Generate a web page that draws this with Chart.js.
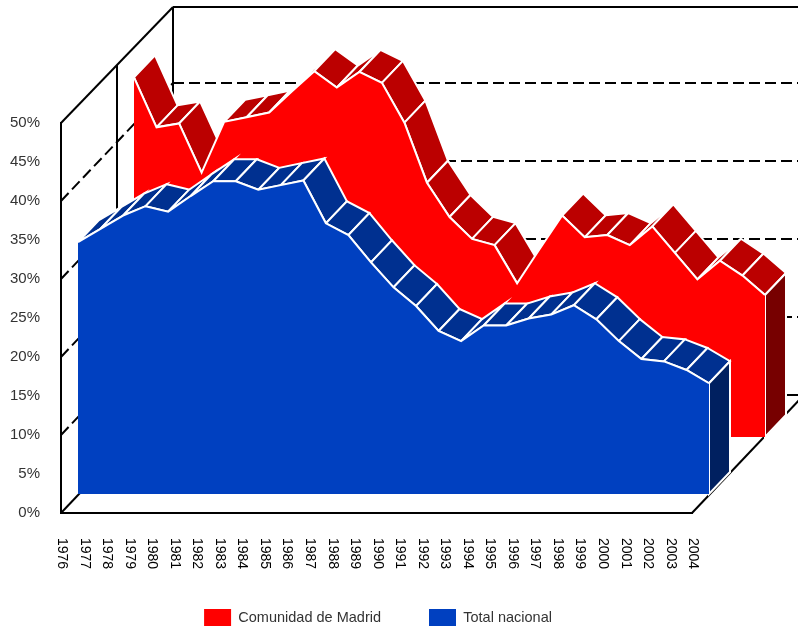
<!DOCTYPE html>
<html lang="es">
<head>
<meta charset="utf-8">
<title>Comunidad de Madrid / Total nacional</title>
<script src="https://cdn.jsdelivr.net/npm/chart.js@4/dist/chart.umd.min.js"></script>
<style>
  html, body { margin: 0; padding: 0; background: #fff; }
  canvas { display: block; }
</style>
</head>
<body>
<canvas id="chart" width="798" height="627"></canvas>
<script>
const years = ["1976","1977","1978","1979","1980","1981","1982","1983","1984","1985",
  "1986","1987","1988","1989","1990","1991","1992","1993","1994","1995",
  "1996","1997","1998","1999","2000","2001","2002","2003","2004"];

const madrid = [46.1,39.7,40.2,33.9,40.4,41.0,41.6,44.3,46.9,44.8,
  46.8,45.4,40.3,32.6,28.2,25.4,24.6,19.7,24.1,28.4,
  25.6,25.9,24.6,27.0,23.6,20.2,22.6,20.7,18.2];

const nacional = [32.3,34.0,35.7,36.9,36.2,38.2,40.1,40.1,39.0,39.6,
  40.2,34.7,33.2,29.7,26.5,24.1,20.9,19.6,21.6,21.6,
  22.5,23.0,24.2,22.4,19.6,17.3,17.0,15.9,14.2];

const wallTicks = [10, 20, 30, 40];

// ─── 3D look: every series sits on its own row of the depth axis ─────────────

const WALL = { dx: 112, dy: -118 };
const WALL_TOP_DY = -116;
const FACE = { dx: 21, dy: -22 };
const ROWS = [
  { dx: 73, dy: -76, top: "#bb0000", side: "#770000" },  // Comunidad de Madrid
  { dx: 17, dy: -19, top: "#003090", side: "#002060" },  // Total nacional
];

function segment(ctx, x0, y0, x1, y1) {
  ctx.beginPath();
  ctx.moveTo(x0, y0);
  ctx.lineTo(x1, y1);
  ctx.stroke();
}

function drawWalls(chart) {
  const { ctx, chartArea: a, scales: { y } } = chart;
  const back = (v) => y.getPixelForValue(v) + WALL.dy;
  const backTop = a.top + WALL_TOP_DY;

  ctx.save();
  ctx.strokeStyle = "#000";
  ctx.lineWidth = 2;

  ctx.setLineDash([11, 5]);
  wallTicks.forEach((v) => {
    const py = y.getPixelForValue(v);
    segment(ctx, a.left, py, a.left + WALL.dx, back(v));
    segment(ctx, a.left + WALL.dx, back(v), a.right + WALL.dx, back(v));
  });
  ctx.setLineDash([]);

  // top + floor edges, back corner and the depth tick half way
  segment(ctx, a.left, a.top, a.left + WALL.dx, backTop);
  segment(ctx, a.left + WALL.dx, backTop, a.right + WALL.dx, backTop);
  segment(ctx, a.left + WALL.dx, backTop, a.left + WALL.dx, back(0));
  segment(ctx, a.left + WALL.dx / 2, a.top + WALL_TOP_DY / 2, a.left + WALL.dx / 2, a.bottom + WALL.dy / 2);
  segment(ctx, a.left, a.bottom, a.left + WALL.dx, back(0));
  segment(ctx, a.right, a.bottom, a.right + WALL.dx, back(0));
  segment(ctx, a.left + WALL.dx, back(0), a.right + WALL.dx, back(0));
  ctx.restore();
}

function drawFaces(chart, index) {
  const { ctx, scales: { y } } = chart;
  const row = ROWS[index];
  const pts = chart.getDatasetMeta(index).data;

  ctx.strokeStyle = "#fff";
  ctx.lineWidth = 2;
  ctx.lineJoin = "miter";

  pts.slice(1).forEach((p, i) => {
    const q = pts[i];
    // facing away from the viewer when rising steeper than the depth direction
    if ((p.x - q.x) * FACE.dy - (p.y - q.y) * FACE.dx > 0) return;
    ctx.beginPath();
    ctx.moveTo(q.x, q.y);
    ctx.lineTo(p.x, p.y);
    ctx.lineTo(p.x + FACE.dx, p.y + FACE.dy);
    ctx.lineTo(q.x + FACE.dx, q.y + FACE.dy);
    ctx.closePath();
    ctx.fillStyle = row.top;
    ctx.fill();
    ctx.stroke();
  });

  const last = pts[pts.length - 1];
  const base = y.getPixelForValue(0);
  ctx.beginPath();
  ctx.moveTo(last.x, last.y);
  ctx.lineTo(last.x + FACE.dx, last.y + FACE.dy);
  ctx.lineTo(last.x + FACE.dx, base + FACE.dy);
  ctx.lineTo(last.x, base);
  ctx.closePath();
  ctx.fillStyle = row.side;
  ctx.fill();
  ctx.stroke();
}

const depthPlugin = {
  id: "depth",
  afterLayout(chart) {
    // legend sits lower and further right than the layout would put it
    const legend = chart.legend;
    legend.bottom += 561 - legend.top;
    legend.top = 561;
    legend.left += 32;
    legend.right += 32;
  },
  beforeDatasetsDraw(chart) {
    drawWalls(chart);
  },
  beforeDatasetDraw(chart, args) {
    const row = ROWS[args.index];
    chart.ctx.save();
    chart.ctx.translate(row.dx, row.dy);
    drawFaces(chart, args.index);
  },
  afterDatasetDraw(chart) {
    chart.ctx.restore();
  },
  afterDraw(chart) {
    // year labels read top to bottom, the axis can only rotate them the other way
    const { ctx, scales: { x } } = chart;
    ctx.save();
    ctx.fillStyle = "#000";
    ctx.font = '14px "Liberation Sans"';
    ctx.textAlign = "left";
    ctx.textBaseline = "middle";
    years.forEach((label, i) => {
      ctx.save();
      ctx.translate(x.getPixelForValue(i) + 1, 538);
      ctx.rotate(Math.PI / 2);
      ctx.fillText(label, 0, 0);
      ctx.restore();
    });
    ctx.restore();
  },
};

// the fill has to run after the translate above, so it goes behind our plugin
Chart.unregister(Chart.Filler);
Chart.register(depthPlugin, Chart.Filler);

new Chart(document.getElementById("chart"), {
  type: "line",
  data: {
    labels: years,
    datasets: [
      { label: "Comunidad de Madrid", data: madrid, backgroundColor: "#ff0000", order: 2 },
      { label: "Total nacional", data: nacional, backgroundColor: "#0040c0", order: 1 },
    ].map((d) => ({ ...d, fill: "origin", borderColor: "#fff", borderWidth: 2, pointRadius: 0, tension: 0, clip: false })),
  },
  options: {
    responsive: false,
    animation: false,
    layout: { padding: { left: 0, right: 106, top: 123, bottom: 39 } },
    plugins: {
      tooltip: { enabled: false },
      legend: {
        position: "bottom",
        labels: {
          boxWidth: 27,
          boxHeight: 17,
          padding: 48,
          color: "#333",
          font: { family: '"Liberation Sans"', size: 14.5 },
          sort: (a, b) => a.datasetIndex - b.datasetIndex,
          generateLabels: (chart) => Chart.defaults.plugins.legend.labels.generateLabels(chart)
            .map((l) => ({ ...l, lineWidth: 0 })),
        },
      },
    },
    scales: {
      x: {
        type: "category",
        offset: false,
        grid: { display: false, drawTicks: false },
        border: { color: "#000", width: 2 },
        ticks: { display: false },
      },
      y: {
        min: 0,
        max: 50,
        afterFit: (scale) => { scale.width = 61; },
        grid: { display: false, drawTicks: false },
        border: { color: "#000", width: 2 },
        ticks: {
          stepSize: 5,
          padding: 21,
          color: "#333",
          font: { family: '"Liberation Sans"', size: 15 },
          callback: (v) => v + "%",
        },
      },
    },
  },
});
</script>
</body>
</html>
